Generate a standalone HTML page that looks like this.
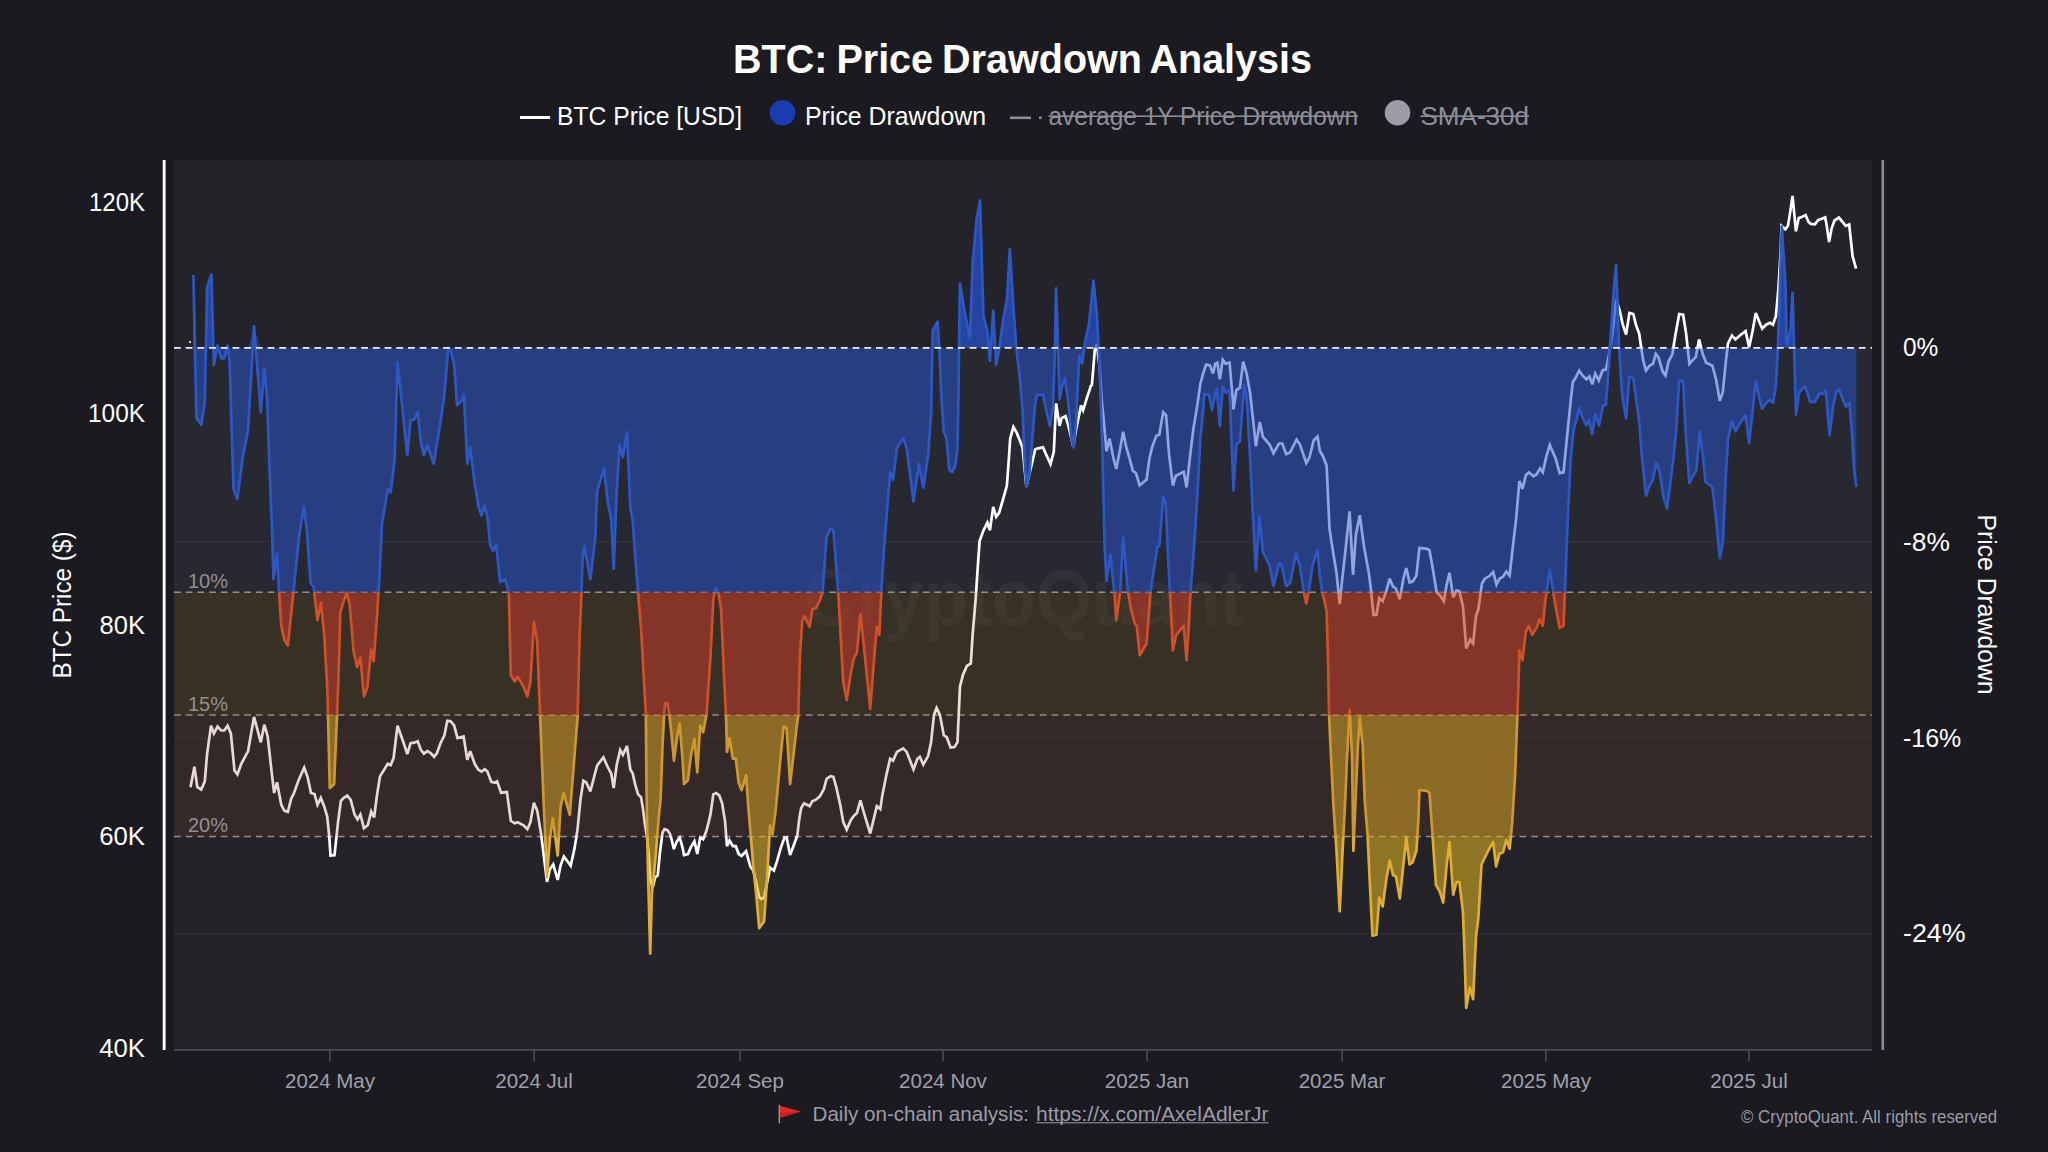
<!DOCTYPE html>
<html lang="en"><head><meta charset="utf-8"><title>BTC: Price Drawdown Analysis</title>
<style>html,body{margin:0;padding:0;background:#1a1a20;}body{width:2048px;height:1152px;overflow:hidden}</style></head>
<body>
<svg width="2048" height="1152" viewBox="0 0 2048 1152" style="display:block;font-family:'Liberation Sans', sans-serif">
<rect width="2048" height="1152" fill="#1a1a20"/>
<rect x="174" y="160" width="1698" height="890" fill="#232329"/>
<rect x="174" y="347.9" width="1698" height="244.30000000000007" fill="#272830"/>
<line x1="174" x2="1872" y1="542" y2="542" stroke="#ffffff" stroke-opacity="0.05" stroke-width="1.4"/>
<line x1="174" x2="1872" y1="738" y2="738" stroke="#ffffff" stroke-opacity="0.05" stroke-width="1.4"/>
<line x1="174" x2="1872" y1="934" y2="934" stroke="#ffffff" stroke-opacity="0.05" stroke-width="1.4"/>
<text x="1024" y="625" font-size="80" font-weight="bold" fill="#ffffff" fill-opacity="0.045" text-anchor="middle" textLength="440" lengthAdjust="spacingAndGlyphs">CryptoQuant</text>
<line x1="174" x2="1872" y1="592.2" y2="592.2" stroke="#9a959b" stroke-width="1.6" stroke-dasharray="6.8 4.9"/>
<line x1="174" x2="1872" y1="715" y2="715" stroke="#9a959b" stroke-width="1.6" stroke-dasharray="6.8 4.9"/>
<line x1="174" x2="1872" y1="836.5" y2="836.5" stroke="#9a959b" stroke-width="1.6" stroke-dasharray="6.8 4.9"/>
<polyline points="190.5,787.2 194.4,766.7 197.3,787.2 201.2,789.5 204.8,781.3 207.1,754.0 211.0,725.7 213.9,733.5 217.5,726.6 221.2,730.5 224.3,730.5 227.6,725.7 230.9,733.5 234.5,770.6 237.4,774.5 241.3,763.8 248.1,751.1 254.0,716.9 260.8,742.3 264.3,724.7 267.7,736.4 271.6,771.6 274.1,793.0 277.0,782.3 281.3,804.8 284.3,810.6 287.8,812.0 291.1,798.9 294.0,793.0 298.9,779.4 304.2,767.7 307.7,777.4 311.0,793.0 314.5,794.0 317.5,804.8 320.8,797.9 324.3,806.7 327.2,816.5 329.2,836.0 330.5,855.5 334.5,855.2 338.0,822.3 340.9,800.9 343.8,797.9 347.3,795.6 350.7,799.9 354.6,814.5 357.5,819.4 360.4,814.5 363.9,828.2 367.7,825.3 371.2,811.6 374.1,817.5 377.0,795.0 380.0,776.4 382.9,771.6 387.8,763.8 390.7,765.1 393.6,757.9 397.5,725.7 403.4,742.3 407.3,754.0 410.6,743.2 414.1,742.7 417.7,741.3 421.0,750.1 423.9,753.6 427.4,751.1 430.7,753.0 434.1,756.9 437.0,753.0 440.5,743.2 444.4,735.4 447.3,720.8 450.7,721.2 454.2,725.7 457.5,738.0 463.6,736.4 467.3,759.8 470.2,751.1 474.7,763.8 478.2,769.6 481.5,771.6 484.8,769.2 487.4,771.6 491.3,781.9 495.2,782.7 497.1,781.3 501.1,792.7 506.9,792.1 510.8,820.8 514.7,823.3 517.7,822.3 523.5,825.3 527.4,829.2 530.4,822.3 533.9,802.8 537.2,810.6 541.1,834.1 544.0,857.5 547.0,881.9 549.9,869.2 553.2,864.3 557.7,880.0 560.6,865.3 563.9,856.5 570.7,865.7 574.6,848.1 577.6,828.6 580.5,799.3 583.4,780.7 586.4,782.7 590.3,791.5 597.1,765.5 603.4,757.3 607.9,767.5 611.2,773.4 613.7,788.0 616.6,765.5 620.2,749.9 622.9,754.8 627.0,746.0 630.3,769.5 632.7,773.4 635.2,784.6 638.1,794.4 641.1,797.3 643.0,809.1 645.0,824.7 646.9,836.4 648.9,855.9 650.2,879.4 652.8,887.2 655.1,877.4 657.7,875.5 660.0,852.0 662.5,832.5 664.5,829.2 667.4,830.2 669.8,833.5 671.3,838.4 673.9,849.1 676.8,841.3 679.7,837.4 682.7,848.1 684.0,855.0 687.9,854.0 690.9,847.1 694.4,841.3 697.3,854.0 700.2,837.4 703.2,839.3 706.5,830.5 710.4,814.9 713.3,794.4 716.2,793.0 719.2,795.4 722.1,803.2 725.0,820.8 727.0,846.2 729.5,840.3 732.9,846.2 735.8,846.2 738.7,854.0 741.6,855.9 746.1,851.1 748.5,859.8 750.4,866.7 753.4,870.6 756.3,883.3 759.2,897.0 761.2,898.9 764.1,897.9 767.0,883.3 770.0,867.7 773.9,870.6 776.8,861.8 780.7,848.1 784.6,837.4 786.6,837.4 790.1,855.0 793.4,846.2 797.3,835.4 799.3,818.8 801.2,808.1 804.1,803.2 809.6,806.1 812.3,801.2 815.9,799.7 819.8,796.4 823.7,789.5 826.6,778.8 830.5,776.2 833.4,776.8 836.4,787.6 840.3,805.2 843.2,821.8 846.7,829.6 851.0,819.8 853.9,815.9 856.9,813.0 860.4,800.3 863.7,812.0 870.2,833.5 874.5,815.9 876.8,806.1 880.3,809.1 882.3,795.4 886.2,775.9 890.1,758.7 893.0,760.7 896.9,751.9 903.2,748.4 906.7,751.9 913.5,769.5 917.4,758.7 919.8,756.8 923.3,764.6 928.2,755.8 931.1,742.1 934.0,714.8 936.6,707.9 939.9,714.8 943.8,735.3 946.7,737.2 950.6,747.6 954.5,747.0 957.5,742.1 958.8,712.8 960.0,686.5 963.0,674.8 966.9,666.0 970.8,663.4 972.7,633.8 975.7,598.6 977.6,569.3 979.6,541.1 983.5,530.4 987.4,522.6 989.9,530.4 993.2,507.0 996.2,516.7 999.1,512.8 1003.0,499.5 1006.9,485.5 1008.9,458.1 1010.2,438.6 1013.4,426.9 1016.7,432.7 1022.5,447.4 1026.4,486.4 1029.4,473.8 1032.3,462.0 1035.2,449.3 1038.2,448.4 1043.0,447.4 1046.0,454.2 1050.5,464.0 1053.8,451.9 1056.1,403.4 1059.6,425.9 1061.6,418.1 1065.5,416.1 1068.4,425.9 1073.3,446.4 1076.2,428.8 1081.1,405.4 1083.1,410.3 1087.0,397.6 1090.9,385.9 1091.9,385.1 1094.8,349.9 1096.8,344.1 1099.7,367.5 1101.6,399.5 1103.6,419.1 1106.5,451.3 1109.5,438.6 1113.4,458.1 1116.3,468.9 1120.2,448.4 1123.1,431.8 1126.1,446.4 1130.0,460.1 1132.9,470.8 1135.8,472.8 1139.7,485.5 1146.6,479.6 1149.5,458.1 1152.4,446.4 1156.3,435.7 1159.3,434.7 1163.2,412.2 1166.1,415.2 1169.0,454.2 1172.9,485.5 1175.9,475.7 1183.7,471.8 1186.6,487.4 1190.5,452.3 1193.4,428.8 1197.3,405.4 1200.3,383.9 1203.2,373.4 1206.1,364.6 1210.0,365.5 1213.0,373.4 1215.3,363.6 1217.3,362.6 1219.8,379.2 1222.7,359.7 1225.7,363.6 1229.6,362.6 1232.5,396.8 1233.5,409.3 1236.4,390.0 1239.9,388.0 1243.2,361.6 1246.6,373.4 1250.1,392.9 1253.0,419.1 1255.9,446.4 1259.8,422.0 1262.8,436.6 1269.6,444.5 1273.5,453.2 1279.0,443.5 1282.3,443.5 1286.2,454.2 1290.1,452.3 1296.6,439.6 1299.9,444.5 1306.3,463.0 1309.6,457.1 1313.6,440.5 1317.5,436.6 1319.8,450.8 1322.7,455.7 1326.6,465.4 1329.5,528.9 1333.4,554.3 1336.4,571.9 1339.7,604.1 1342.2,579.7 1346.1,544.5 1349.6,511.3 1353.0,574.8 1355.9,534.8 1359.8,515.2 1363.7,544.5 1368.6,571.9 1370.5,585.5 1373.5,614.8 1376.4,614.8 1379.3,598.2 1382.7,601.2 1386.2,591.4 1389.7,578.7 1393.0,586.5 1395.9,588.5 1399.8,599.2 1403.4,578.7 1406.3,568.0 1409.6,582.6 1412.5,581.6 1416.4,575.8 1419.4,547.9 1427.2,548.8 1429.5,550.4 1433.0,569.9 1436.6,592.4 1439.9,595.3 1443.8,601.2 1446.7,584.6 1449.5,572.9 1453.2,597.3 1456.5,590.4 1459.4,591.4 1462.9,606.1 1464.3,623.0 1466.2,648.4 1470.2,639.6 1473.1,643.5 1476.0,616.1 1478.4,609.3 1481.9,583.6 1484.8,578.7 1489.7,575.8 1493.2,571.9 1496.5,584.6 1499.5,578.7 1503.0,576.8 1506.3,571.5 1509.6,575.8 1513.1,544.5 1516.1,519.1 1519.4,481.1 1522.5,488.9 1525.8,475.2 1528.8,472.3 1533.6,476.2 1536.6,474.2 1540.1,468.4 1542.8,472.3 1546.3,456.6 1549.8,444.9 1555.7,458.6 1559.6,473.2 1563.5,472.3 1566.8,439.1 1570.8,399.9 1572.8,382.3 1575.7,377.5 1579.2,370.6 1582.5,375.5 1586.4,379.4 1589.4,376.5 1592.3,384.3 1595.2,373.6 1598.8,380.4 1602.7,370.2 1606.0,369.6 1608.9,355.0 1612.8,331.6 1616.1,299.3 1619.6,310.1 1622.6,323.8 1626.1,334.5 1629.4,313.0 1633.3,314.0 1636.2,325.7 1639.2,333.5 1641.1,347.0 1643.1,359.9 1646.0,370.6 1649.5,365.7 1652.9,363.8 1655.8,354.0 1658.7,357.9 1662.6,371.6 1665.5,375.5 1668.5,361.8 1672.4,354.0 1675.3,335.5 1679.2,314.0 1683.1,314.6 1686.1,333.5 1688.0,351.1 1689.4,363.8 1692.9,359.9 1695.8,357.0 1699.1,339.4 1702.7,354.0 1706.2,362.8 1712.4,365.7 1716.3,380.4 1719.8,400.9 1722.8,392.1 1725.7,362.8 1728.0,343.3 1732.0,335.5 1735.5,339.4 1739.8,335.5 1745.6,331.2 1749.1,347.2 1752.5,331.6 1755.8,313.0 1759.3,321.8 1762.2,328.6 1766.1,324.7 1770.0,322.8 1773.0,324.7 1775.9,315.9 1778.4,288.6 1780.8,249.5 1781.5,225.9 1785.4,229.3 1787.9,225.9 1789.9,214.1 1792.5,196.0 1794.3,214.1 1795.9,231.3 1798.7,218.1 1801.6,217.1 1805.6,215.1 1808.5,222.0 1810.9,223.9 1814.9,224.4 1818.3,220.0 1821.2,219.0 1825.2,217.4 1826.6,224.9 1829.1,242.1 1831.5,228.9 1834.5,220.5 1838.9,217.6 1841.8,221.0 1845.8,225.9 1849.2,224.4 1850.7,238.7 1852.6,256.3 1856.1,268.6" fill="none" stroke="#ffffff" stroke-width="2.7" stroke-linejoin="miter" stroke-miterlimit="3"/>
<polygon points="193.4,347.9 193.4,275.0 196.4,418.0 201.2,424.8 204.8,402.3 207.1,287.1 211.4,274.4 213.9,365.2 217.5,345.3 221.2,358.4 224.3,358.4 227.6,345.3 229.6,361.3 233.5,489.3 237.4,499.1 242.3,460.0 248.1,429.7 254.0,326.2 260.8,412.1 264.3,368.2 267.1,398.4 269.6,469.8 271.6,518.6 273.5,579.1 277.0,553.8 279.4,592.2 281.3,592.2 284.3,592.2 287.8,592.2 291.1,592.2 293.4,592.2 298.9,538.1 303.8,506.9 306.7,528.4 310.6,583.0 313.6,587.0 314.5,592.2 317.5,592.2 321.0,592.2 324.3,592.2 327.4,592.2 329.8,592.2 334.1,592.2 337.0,592.2 338.4,592.2 340.3,592.2 343.8,592.2 346.8,592.2 349.7,592.2 353.6,592.2 357.1,592.2 360.4,592.2 363.9,592.2 367.3,592.2 371.2,592.2 373.7,592.2 377.0,592.2 379.4,577.2 381.9,524.5 387.8,489.3 390.7,492.2 394.6,460.0 397.5,362.3 407.3,455.1 410.6,419.9 414.1,419.9 417.7,412.1 421.0,443.4 423.9,455.1 427.4,445.3 433.7,463.9 440.5,421.9 444.4,394.5 448.3,347.7 450.7,349.6 454.2,365.2 457.1,405.3 462.0,400.4 463.9,394.5 467.3,463.9 470.2,447.3 474.7,483.4 478.6,506.9 481.5,515.7 484.5,505.9 487.4,516.6 490.3,545.9 493.2,550.8 496.2,545.0 500.1,582.1 505.0,579.1 506.9,585.0 508.9,592.2 510.8,592.2 514.7,592.2 517.7,592.2 520.6,592.2 523.9,592.2 527.4,592.2 530.4,592.2 533.9,592.2 537.2,592.2 540.1,592.2 543.0,592.2 547.0,592.2 549.9,592.2 552.8,592.2 557.7,592.2 560.6,592.2 563.6,592.2 569.8,592.2 577.6,592.2 579.5,592.2 581.5,591.7 582.5,559.9 584.4,546.2 590.3,579.5 595.2,538.4 597.1,491.6 603.9,468.1 607.9,503.3 611.2,518.9 613.7,568.7 616.6,493.5 619.6,444.7 622.9,457.4 627.0,432.0 630.3,507.2 632.7,520.9 635.2,556.0 638.1,592.2 641.1,592.2 644.0,592.2 645.9,592.2 646.5,592.2 647.9,592.2 650.2,592.2 651.8,592.2 655.7,592.2 658.6,592.2 660.6,592.2 662.5,592.2 664.1,592.2 665.1,592.2 667.4,592.2 669.4,592.2 671.3,592.2 673.9,592.2 677.2,592.2 679.7,592.2 682.7,592.2 684.0,592.2 687.9,592.2 690.9,592.2 694.4,592.2 697.3,592.2 700.2,592.2 703.2,592.2 706.5,592.2 710.4,592.2 713.3,592.2 715.7,587.8 718.2,591.7 721.1,592.2 724.1,592.2 726.0,592.2 727.0,592.2 729.5,592.2 732.9,592.2 735.8,592.2 738.7,592.2 741.6,592.2 746.1,592.2 748.5,592.2 753.4,592.2 756.3,592.2 759.2,592.2 764.1,592.2 767.0,592.2 770.0,592.2 772.5,592.2 775.8,592.2 780.7,592.2 783.6,592.2 786.6,592.2 790.1,592.2 793.4,592.2 796.7,592.2 798.3,592.2 799.8,592.2 802.2,592.2 804.5,592.2 809.6,592.2 812.3,592.2 815.9,592.2 819.8,592.2 822.7,591.9 823.7,575.5 826.6,536.5 830.5,528.7 833.4,530.6 835.4,556.0 838.3,592.2 840.3,592.2 843.2,592.2 846.7,592.2 851.0,592.2 853.9,592.2 856.9,592.2 860.4,592.2 863.7,592.2 870.2,592.2 874.5,592.2 876.8,592.2 879.3,592.2 881.3,591.9 884.2,546.2 890.1,472.0 893.0,479.8 896.9,448.6 903.2,437.9 906.7,448.6 913.5,501.3 919.0,464.2 923.3,487.7 928.2,454.5 931.1,413.4 932.7,330.4 937.6,321.6 939.5,351.9 941.5,399.5 943.8,431.8 946.4,438.6 949.3,469.8 952.2,472.2 955.2,465.9 957.5,448.4 958.7,380.0 959.1,336.2 960.0,283.5 964.9,312.8 969.8,338.2 972.7,262.0 976.6,219.1 980.0,200.5 983.5,316.7 987.4,330.4 989.9,360.7 993.2,310.5 996.2,364.6 999.1,349.9 1003.0,320.6 1006.9,300.1 1009.8,249.3 1013.4,307.0 1016.7,351.9 1019.6,375.3 1022.5,409.3 1024.5,458.1 1026.4,486.4 1029.4,473.8 1032.3,438.6 1035.2,403.4 1037.2,394.6 1043.0,394.6 1046.0,409.3 1049.9,425.9 1052.8,409.3 1054.8,355.8 1056.1,288.4 1058.3,355.8 1059.6,399.5 1061.6,387.8 1064.9,378.2 1068.4,403.4 1071.4,438.6 1073.7,447.4 1076.2,419.1 1079.2,355.8 1082.1,363.6 1085.0,342.1 1088.9,324.5 1093.4,280.6 1096.8,312.8 1098.7,348.0 1100.7,399.5 1102.6,458.1 1104.6,546.0 1106.5,581.2 1110.4,554.8 1112.4,575.2 1114.3,592.0 1116.3,592.2 1118.2,592.2 1120.2,592.0 1123.1,537.2 1126.1,571.4 1128.0,592.0 1130.9,592.2 1134.8,592.2 1136.8,592.2 1139.7,592.2 1146.6,592.2 1148.5,592.2 1150.5,592.0 1154.4,565.5 1157.3,547.0 1159.3,546.0 1163.2,497.2 1165.7,503.0 1168.0,555.8 1170.0,592.0 1172.9,592.2 1175.9,592.2 1178.8,592.2 1183.7,592.2 1186.6,592.2 1188.6,592.2 1190.5,592.0 1193.4,555.8 1197.3,497.2 1200.3,438.6 1203.2,409.3 1204.2,393.9 1209.1,394.8 1212.0,410.3 1214.9,395.6 1216.9,388.8 1219.8,425.9 1222.7,386.8 1225.7,392.7 1229.6,390.7 1233.5,490.4 1236.4,444.5 1239.9,441.5 1244.2,384.9 1246.6,396.6 1250.1,458.1 1253.0,516.7 1255.9,570.4 1259.5,516.7 1262.8,551.9 1266.7,559.7 1269.6,565.5 1273.5,586.1 1279.0,563.6 1281.3,564.6 1286.2,586.1 1290.1,583.1 1296.0,553.8 1299.9,565.5 1303.8,592.0 1306.3,592.2 1308.7,592.0 1312.6,565.5 1317.5,549.9 1319.8,575.8 1322.1,592.0 1324.6,592.2 1326.6,592.2 1328.0,592.2 1329.1,592.2 1330.5,592.2 1333.4,592.2 1336.4,592.2 1339.7,592.2 1342.2,592.2 1345.2,592.2 1347.1,592.2 1349.6,592.2 1352.0,592.2 1353.4,592.2 1357.9,592.2 1359.8,592.2 1362.7,592.2 1364.7,592.2 1367.6,592.2 1369.6,592.2 1372.5,592.2 1376.4,592.2 1379.3,592.2 1382.7,592.2 1386.2,592.2 1389.7,592.2 1393.0,592.2 1395.9,592.2 1399.8,592.2 1403.4,592.2 1406.3,592.2 1409.6,592.2 1412.5,592.2 1416.4,592.2 1418.4,592.2 1419.4,592.2 1427.2,592.2 1429.5,592.2 1432.1,592.2 1436.0,592.2 1439.9,592.2 1443.2,592.2 1446.7,592.2 1449.5,592.2 1453.2,592.2 1456.5,592.2 1459.4,592.2 1462.9,592.2 1464.3,592.2 1466.2,592.2 1469.8,592.2 1473.1,592.2 1476.0,592.2 1478.4,592.2 1481.5,592.2 1484.8,592.2 1489.7,592.2 1493.2,592.2 1496.1,592.2 1499.5,592.2 1503.0,592.2 1506.3,592.2 1509.6,592.2 1512.1,592.2 1515.1,592.2 1517.4,592.2 1518.6,592.2 1519.4,592.2 1522.5,592.2 1525.8,592.2 1528.8,592.2 1532.3,592.2 1536.6,592.2 1539.5,592.2 1542.8,592.2 1545.4,592.2 1546.7,591.9 1549.8,569.9 1553.2,591.9 1556.1,592.2 1559.6,592.2 1563.5,592.2 1564.9,591.9 1567.8,517.2 1570.7,458.6 1573.7,429.3 1576.6,419.5 1579.1,407.8 1582.5,417.6 1586.4,425.4 1588.9,419.5 1592.2,434.2 1595.2,414.6 1599.1,425.4 1603.0,405.9 1605.9,404.9 1607.9,378.4 1611.2,327.7 1613.8,288.6 1616.1,265.2 1619.1,347.2 1622.2,396.0 1626.1,418.6 1629.4,376.5 1633.3,378.4 1636.2,399.9 1639.2,421.5 1642.1,458.6 1646.0,495.7 1649.5,485.9 1652.9,480.1 1656.2,462.5 1659.7,472.3 1663.6,497.7 1667.1,508.4 1670.4,482.0 1673.4,458.6 1676.3,429.3 1679.2,380.4 1683.1,381.4 1686.1,439.1 1689.4,483.0 1692.9,476.2 1696.4,470.3 1699.7,432.2 1702.7,454.7 1705.6,482.0 1712.4,486.9 1716.3,521.1 1719.8,558.2 1722.8,542.6 1725.7,478.1 1728.0,439.1 1732.0,421.5 1735.5,431.2 1739.8,423.4 1745.6,415.6 1749.1,443.0 1752.5,411.7 1755.8,381.4 1759.3,398.0 1762.2,408.8 1766.1,402.9 1770.0,399.9 1773.0,402.9 1775.9,386.2 1777.9,347.2 1779.8,288.6 1781.8,226.4 1785.7,288.6 1786.6,345.2 1788.6,339.4 1790.5,327.7 1792.5,292.5 1794.1,347.2 1796.0,414.6 1799.3,392.1 1805.2,386.2 1810.1,401.9 1815.0,401.9 1819.5,393.1 1822.2,394.1 1825.7,390.2 1829.6,435.2 1833.1,405.8 1836.4,392.1 1839.0,389.2 1842.9,399.9 1846.2,406.8 1849.5,402.9 1852.1,435.2 1854.0,468.4 1856.4,486.9 1856.4,347.9" fill="#2952cc" fill-opacity="0.52"/>
<polygon points="193.4,347.9 193.4,275.0 196.4,347.9 201.2,347.9 204.8,347.9 207.1,287.1 211.4,274.4 213.9,347.9 217.5,345.3 221.2,347.9 224.3,347.9 227.6,345.3 229.6,347.9 233.5,347.9 237.4,347.9 242.3,347.9 248.1,347.9 254.0,326.2 260.8,347.9 264.3,347.9 267.1,347.9 269.6,347.9 271.6,347.9 273.5,347.9 277.0,347.9 279.4,347.9 281.3,347.9 284.3,347.9 287.8,347.9 291.1,347.9 293.4,347.9 298.9,347.9 303.8,347.9 306.7,347.9 310.6,347.9 313.6,347.9 314.5,347.9 317.5,347.9 321.0,347.9 324.3,347.9 327.4,347.9 329.8,347.9 334.1,347.9 337.0,347.9 338.4,347.9 340.3,347.9 343.8,347.9 346.8,347.9 349.7,347.9 353.6,347.9 357.1,347.9 360.4,347.9 363.9,347.9 367.3,347.9 371.2,347.9 373.7,347.9 377.0,347.9 379.4,347.9 381.9,347.9 387.8,347.9 390.7,347.9 394.6,347.9 397.5,347.9 407.3,347.9 410.6,347.9 414.1,347.9 417.7,347.9 421.0,347.9 423.9,347.9 427.4,347.9 433.7,347.9 440.5,347.9 444.4,347.9 448.3,347.7 450.7,347.9 454.2,347.9 457.1,347.9 462.0,347.9 463.9,347.9 467.3,347.9 470.2,347.9 474.7,347.9 478.6,347.9 481.5,347.9 484.5,347.9 487.4,347.9 490.3,347.9 493.2,347.9 496.2,347.9 500.1,347.9 505.0,347.9 506.9,347.9 508.9,347.9 510.8,347.9 514.7,347.9 517.7,347.9 520.6,347.9 523.9,347.9 527.4,347.9 530.4,347.9 533.9,347.9 537.2,347.9 540.1,347.9 543.0,347.9 547.0,347.9 549.9,347.9 552.8,347.9 557.7,347.9 560.6,347.9 563.6,347.9 569.8,347.9 577.6,347.9 579.5,347.9 581.5,347.9 582.5,347.9 584.4,347.9 590.3,347.9 595.2,347.9 597.1,347.9 603.9,347.9 607.9,347.9 611.2,347.9 613.7,347.9 616.6,347.9 619.6,347.9 622.9,347.9 627.0,347.9 630.3,347.9 632.7,347.9 635.2,347.9 638.1,347.9 641.1,347.9 644.0,347.9 645.9,347.9 646.5,347.9 647.9,347.9 650.2,347.9 651.8,347.9 655.7,347.9 658.6,347.9 660.6,347.9 662.5,347.9 664.1,347.9 665.1,347.9 667.4,347.9 669.4,347.9 671.3,347.9 673.9,347.9 677.2,347.9 679.7,347.9 682.7,347.9 684.0,347.9 687.9,347.9 690.9,347.9 694.4,347.9 697.3,347.9 700.2,347.9 703.2,347.9 706.5,347.9 710.4,347.9 713.3,347.9 715.7,347.9 718.2,347.9 721.1,347.9 724.1,347.9 726.0,347.9 727.0,347.9 729.5,347.9 732.9,347.9 735.8,347.9 738.7,347.9 741.6,347.9 746.1,347.9 748.5,347.9 753.4,347.9 756.3,347.9 759.2,347.9 764.1,347.9 767.0,347.9 770.0,347.9 772.5,347.9 775.8,347.9 780.7,347.9 783.6,347.9 786.6,347.9 790.1,347.9 793.4,347.9 796.7,347.9 798.3,347.9 799.8,347.9 802.2,347.9 804.5,347.9 809.6,347.9 812.3,347.9 815.9,347.9 819.8,347.9 822.7,347.9 823.7,347.9 826.6,347.9 830.5,347.9 833.4,347.9 835.4,347.9 838.3,347.9 840.3,347.9 843.2,347.9 846.7,347.9 851.0,347.9 853.9,347.9 856.9,347.9 860.4,347.9 863.7,347.9 870.2,347.9 874.5,347.9 876.8,347.9 879.3,347.9 881.3,347.9 884.2,347.9 890.1,347.9 893.0,347.9 896.9,347.9 903.2,347.9 906.7,347.9 913.5,347.9 919.0,347.9 923.3,347.9 928.2,347.9 931.1,347.9 932.7,330.4 937.6,321.6 939.5,347.9 941.5,347.9 943.8,347.9 946.4,347.9 949.3,347.9 952.2,347.9 955.2,347.9 957.5,347.9 958.7,347.9 959.1,336.2 960.0,283.5 964.9,312.8 969.8,338.2 972.7,262.0 976.6,219.1 980.0,200.5 983.5,316.7 987.4,330.4 989.9,347.9 993.2,310.5 996.2,347.9 999.1,347.9 1003.0,320.6 1006.9,300.1 1009.8,249.3 1013.4,307.0 1016.7,347.9 1019.6,347.9 1022.5,347.9 1024.5,347.9 1026.4,347.9 1029.4,347.9 1032.3,347.9 1035.2,347.9 1037.2,347.9 1043.0,347.9 1046.0,347.9 1049.9,347.9 1052.8,347.9 1054.8,347.9 1056.1,288.4 1058.3,347.9 1059.6,347.9 1061.6,347.9 1064.9,347.9 1068.4,347.9 1071.4,347.9 1073.7,347.9 1076.2,347.9 1079.2,347.9 1082.1,347.9 1085.0,342.1 1088.9,324.5 1093.4,280.6 1096.8,312.8 1098.7,347.9 1100.7,347.9 1102.6,347.9 1104.6,347.9 1106.5,347.9 1110.4,347.9 1112.4,347.9 1114.3,347.9 1116.3,347.9 1118.2,347.9 1120.2,347.9 1123.1,347.9 1126.1,347.9 1128.0,347.9 1130.9,347.9 1134.8,347.9 1136.8,347.9 1139.7,347.9 1146.6,347.9 1148.5,347.9 1150.5,347.9 1154.4,347.9 1157.3,347.9 1159.3,347.9 1163.2,347.9 1165.7,347.9 1168.0,347.9 1170.0,347.9 1172.9,347.9 1175.9,347.9 1178.8,347.9 1183.7,347.9 1186.6,347.9 1188.6,347.9 1190.5,347.9 1193.4,347.9 1197.3,347.9 1200.3,347.9 1203.2,347.9 1204.2,347.9 1209.1,347.9 1212.0,347.9 1214.9,347.9 1216.9,347.9 1219.8,347.9 1222.7,347.9 1225.7,347.9 1229.6,347.9 1233.5,347.9 1236.4,347.9 1239.9,347.9 1244.2,347.9 1246.6,347.9 1250.1,347.9 1253.0,347.9 1255.9,347.9 1259.5,347.9 1262.8,347.9 1266.7,347.9 1269.6,347.9 1273.5,347.9 1279.0,347.9 1281.3,347.9 1286.2,347.9 1290.1,347.9 1296.0,347.9 1299.9,347.9 1303.8,347.9 1306.3,347.9 1308.7,347.9 1312.6,347.9 1317.5,347.9 1319.8,347.9 1322.1,347.9 1324.6,347.9 1326.6,347.9 1328.0,347.9 1329.1,347.9 1330.5,347.9 1333.4,347.9 1336.4,347.9 1339.7,347.9 1342.2,347.9 1345.2,347.9 1347.1,347.9 1349.6,347.9 1352.0,347.9 1353.4,347.9 1357.9,347.9 1359.8,347.9 1362.7,347.9 1364.7,347.9 1367.6,347.9 1369.6,347.9 1372.5,347.9 1376.4,347.9 1379.3,347.9 1382.7,347.9 1386.2,347.9 1389.7,347.9 1393.0,347.9 1395.9,347.9 1399.8,347.9 1403.4,347.9 1406.3,347.9 1409.6,347.9 1412.5,347.9 1416.4,347.9 1418.4,347.9 1419.4,347.9 1427.2,347.9 1429.5,347.9 1432.1,347.9 1436.0,347.9 1439.9,347.9 1443.2,347.9 1446.7,347.9 1449.5,347.9 1453.2,347.9 1456.5,347.9 1459.4,347.9 1462.9,347.9 1464.3,347.9 1466.2,347.9 1469.8,347.9 1473.1,347.9 1476.0,347.9 1478.4,347.9 1481.5,347.9 1484.8,347.9 1489.7,347.9 1493.2,347.9 1496.1,347.9 1499.5,347.9 1503.0,347.9 1506.3,347.9 1509.6,347.9 1512.1,347.9 1515.1,347.9 1517.4,347.9 1518.6,347.9 1519.4,347.9 1522.5,347.9 1525.8,347.9 1528.8,347.9 1532.3,347.9 1536.6,347.9 1539.5,347.9 1542.8,347.9 1545.4,347.9 1546.7,347.9 1549.8,347.9 1553.2,347.9 1556.1,347.9 1559.6,347.9 1563.5,347.9 1564.9,347.9 1567.8,347.9 1570.7,347.9 1573.7,347.9 1576.6,347.9 1579.1,347.9 1582.5,347.9 1586.4,347.9 1588.9,347.9 1592.2,347.9 1595.2,347.9 1599.1,347.9 1603.0,347.9 1605.9,347.9 1607.9,347.9 1611.2,327.7 1613.8,288.6 1616.1,265.2 1619.1,347.2 1622.2,347.9 1626.1,347.9 1629.4,347.9 1633.3,347.9 1636.2,347.9 1639.2,347.9 1642.1,347.9 1646.0,347.9 1649.5,347.9 1652.9,347.9 1656.2,347.9 1659.7,347.9 1663.6,347.9 1667.1,347.9 1670.4,347.9 1673.4,347.9 1676.3,347.9 1679.2,347.9 1683.1,347.9 1686.1,347.9 1689.4,347.9 1692.9,347.9 1696.4,347.9 1699.7,347.9 1702.7,347.9 1705.6,347.9 1712.4,347.9 1716.3,347.9 1719.8,347.9 1722.8,347.9 1725.7,347.9 1728.0,347.9 1732.0,347.9 1735.5,347.9 1739.8,347.9 1745.6,347.9 1749.1,347.9 1752.5,347.9 1755.8,347.9 1759.3,347.9 1762.2,347.9 1766.1,347.9 1770.0,347.9 1773.0,347.9 1775.9,347.9 1777.9,347.2 1779.8,288.6 1781.8,226.4 1785.7,288.6 1786.6,345.2 1788.6,339.4 1790.5,327.7 1792.5,292.5 1794.1,347.2 1796.0,347.9 1799.3,347.9 1805.2,347.9 1810.1,347.9 1815.0,347.9 1819.5,347.9 1822.2,347.9 1825.7,347.9 1829.6,347.9 1833.1,347.9 1836.4,347.9 1839.0,347.9 1842.9,347.9 1846.2,347.9 1849.5,347.9 1852.1,347.9 1854.0,347.9 1856.4,347.9 1856.4,347.9" fill="#2952cc" fill-opacity="0.45"/>
<polygon points="193.4,592.2 193.4,592.2 196.4,592.2 201.2,592.2 204.8,592.2 207.1,592.2 211.4,592.2 213.9,592.2 217.5,592.2 221.2,592.2 224.3,592.2 227.6,592.2 229.6,592.2 233.5,592.2 237.4,592.2 242.3,592.2 248.1,592.2 254.0,592.2 260.8,592.2 264.3,592.2 267.1,592.2 269.6,592.2 271.6,592.2 273.5,592.2 277.0,592.2 279.4,596.7 281.3,626.0 284.3,639.7 287.8,645.5 291.1,614.3 293.4,592.8 298.9,592.2 303.8,592.2 306.7,592.2 310.6,592.2 313.6,592.2 314.5,594.8 317.5,620.2 321.0,602.6 324.3,635.8 327.4,689.5 329.8,715.0 334.1,715.0 337.0,715.0 338.4,679.8 340.3,612.3 343.8,600.6 346.8,592.8 349.7,604.5 353.6,651.4 357.1,667.0 360.4,657.3 363.9,696.4 367.3,687.6 371.2,649.5 373.7,661.2 377.0,616.2 379.4,592.2 381.9,592.2 387.8,592.2 390.7,592.2 394.6,592.2 397.5,592.2 407.3,592.2 410.6,592.2 414.1,592.2 417.7,592.2 421.0,592.2 423.9,592.2 427.4,592.2 433.7,592.2 440.5,592.2 444.4,592.2 448.3,592.2 450.7,592.2 454.2,592.2 457.1,592.2 462.0,592.2 463.9,592.2 467.3,592.2 470.2,592.2 474.7,592.2 478.6,592.2 481.5,592.2 484.5,592.2 487.4,592.2 490.3,592.2 493.2,592.2 496.2,592.2 500.1,592.2 505.0,592.2 506.9,592.2 508.9,594.8 510.8,674.8 514.7,681.7 517.7,676.8 520.6,681.7 523.9,687.6 527.4,696.4 530.4,681.7 533.9,622.1 537.2,641.6 540.1,714.9 543.0,715.0 547.0,715.0 549.9,715.0 552.8,715.0 557.7,715.0 560.6,715.0 563.6,715.0 569.8,715.0 577.6,715.0 579.5,638.6 581.5,592.2 582.5,592.2 584.4,592.2 590.3,592.2 595.2,592.2 597.1,592.2 603.9,592.2 607.9,592.2 611.2,592.2 613.7,592.2 616.6,592.2 619.6,592.2 622.9,592.2 627.0,592.2 630.3,592.2 632.7,592.2 635.2,592.2 638.1,593.1 641.1,628.8 644.0,681.6 645.9,714.8 646.5,715.0 647.9,715.0 650.2,715.0 651.8,715.0 655.7,715.0 658.6,715.0 660.6,715.0 662.5,715.0 664.1,714.8 665.1,703.0 667.4,703.0 669.4,714.8 671.3,715.0 673.9,715.0 677.2,715.0 679.7,715.0 682.7,715.0 684.0,715.0 687.9,715.0 690.9,715.0 694.4,715.0 697.3,715.0 700.2,715.0 703.2,715.0 706.5,714.8 710.4,658.1 713.3,599.5 715.7,592.2 718.2,592.2 721.1,609.3 724.1,677.7 726.0,714.8 727.0,715.0 729.5,715.0 732.9,715.0 735.8,715.0 738.7,715.0 741.6,715.0 746.1,715.0 748.5,715.0 753.4,715.0 756.3,715.0 759.2,715.0 764.1,715.0 767.0,715.0 770.0,715.0 772.5,715.0 775.8,715.0 780.7,715.0 783.6,715.0 786.6,715.0 790.1,715.0 793.4,715.0 796.7,715.0 798.3,714.8 799.8,658.1 802.2,621.0 804.5,616.1 809.6,626.9 812.3,609.3 815.9,608.3 819.8,600.5 822.7,592.2 823.7,592.2 826.6,592.2 830.5,592.2 833.4,592.2 835.4,592.2 838.3,593.1 840.3,628.8 843.2,681.6 846.7,700.1 851.0,671.8 853.9,658.1 856.9,652.3 860.4,614.2 863.7,644.5 870.2,708.9 874.5,654.2 876.8,626.9 879.3,634.7 881.3,592.2 884.2,592.2 890.1,592.2 893.0,592.2 896.9,592.2 903.2,592.2 906.7,592.2 913.5,592.2 919.0,592.2 923.3,592.2 928.2,592.2 931.1,592.2 932.7,592.2 937.6,592.2 939.5,592.2 941.5,592.2 943.8,592.2 946.4,592.2 949.3,592.2 952.2,592.2 955.2,592.2 957.5,592.2 958.7,592.2 959.1,592.2 960.0,592.2 964.9,592.2 969.8,592.2 972.7,592.2 976.6,592.2 980.0,592.2 983.5,592.2 987.4,592.2 989.9,592.2 993.2,592.2 996.2,592.2 999.1,592.2 1003.0,592.2 1006.9,592.2 1009.8,592.2 1013.4,592.2 1016.7,592.2 1019.6,592.2 1022.5,592.2 1024.5,592.2 1026.4,592.2 1029.4,592.2 1032.3,592.2 1035.2,592.2 1037.2,592.2 1043.0,592.2 1046.0,592.2 1049.9,592.2 1052.8,592.2 1054.8,592.2 1056.1,592.2 1058.3,592.2 1059.6,592.2 1061.6,592.2 1064.9,592.2 1068.4,592.2 1071.4,592.2 1073.7,592.2 1076.2,592.2 1079.2,592.2 1082.1,592.2 1085.0,592.2 1088.9,592.2 1093.4,592.2 1096.8,592.2 1098.7,592.2 1100.7,592.2 1102.6,592.2 1104.6,592.2 1106.5,592.2 1110.4,592.2 1112.4,592.2 1114.3,592.2 1116.3,620.1 1118.2,606.4 1120.2,592.2 1123.1,592.2 1126.1,592.2 1128.0,592.2 1130.9,608.4 1134.8,624.0 1136.8,625.9 1139.7,655.2 1146.6,643.5 1148.5,618.1 1150.5,592.2 1154.4,592.2 1157.3,592.2 1159.3,592.2 1163.2,592.2 1165.7,592.2 1168.0,592.2 1170.0,592.2 1172.9,650.4 1175.9,635.7 1178.8,631.8 1183.7,625.9 1186.6,660.1 1188.6,627.9 1190.5,592.2 1193.4,592.2 1197.3,592.2 1200.3,592.2 1203.2,592.2 1204.2,592.2 1209.1,592.2 1212.0,592.2 1214.9,592.2 1216.9,592.2 1219.8,592.2 1222.7,592.2 1225.7,592.2 1229.6,592.2 1233.5,592.2 1236.4,592.2 1239.9,592.2 1244.2,592.2 1246.6,592.2 1250.1,592.2 1253.0,592.2 1255.9,592.2 1259.5,592.2 1262.8,592.2 1266.7,592.2 1269.6,592.2 1273.5,592.2 1279.0,592.2 1281.3,592.2 1286.2,592.2 1290.1,592.2 1296.0,592.2 1299.9,592.2 1303.8,592.2 1306.3,603.5 1308.7,592.2 1312.6,592.2 1317.5,592.2 1319.8,592.2 1322.1,592.2 1324.6,601.5 1326.6,611.2 1328.0,658.1 1329.1,715.0 1330.5,715.0 1333.4,715.0 1336.4,715.0 1339.7,715.0 1342.2,715.0 1345.2,715.0 1347.1,715.0 1349.6,709.9 1352.0,715.0 1353.4,715.0 1357.9,715.0 1359.8,715.0 1362.7,715.0 1364.7,715.0 1367.6,715.0 1369.6,715.0 1372.5,715.0 1376.4,715.0 1379.3,715.0 1382.7,715.0 1386.2,715.0 1389.7,715.0 1393.0,715.0 1395.9,715.0 1399.8,715.0 1403.4,715.0 1406.3,715.0 1409.6,715.0 1412.5,715.0 1416.4,715.0 1418.4,715.0 1419.4,715.0 1427.2,715.0 1429.5,715.0 1432.1,715.0 1436.0,715.0 1439.9,715.0 1443.2,715.0 1446.7,715.0 1449.5,715.0 1453.2,715.0 1456.5,715.0 1459.4,715.0 1462.9,715.0 1464.3,715.0 1466.2,715.0 1469.8,715.0 1473.1,715.0 1476.0,715.0 1478.4,715.0 1481.5,715.0 1484.8,715.0 1489.7,715.0 1493.2,715.0 1496.1,715.0 1499.5,715.0 1503.0,715.0 1506.3,715.0 1509.6,715.0 1512.1,715.0 1515.1,715.0 1517.4,715.0 1518.6,677.7 1519.4,650.3 1522.5,660.1 1525.8,631.8 1528.8,625.9 1532.3,634.7 1536.6,627.9 1539.5,619.1 1542.8,625.9 1545.4,599.5 1546.7,592.2 1549.8,592.2 1553.2,592.2 1556.1,609.3 1559.6,627.9 1563.5,625.9 1564.9,592.2 1567.8,592.2 1570.7,592.2 1573.7,592.2 1576.6,592.2 1579.1,592.2 1582.5,592.2 1586.4,592.2 1588.9,592.2 1592.2,592.2 1595.2,592.2 1599.1,592.2 1603.0,592.2 1605.9,592.2 1607.9,592.2 1611.2,592.2 1613.8,592.2 1616.1,592.2 1619.1,592.2 1622.2,592.2 1626.1,592.2 1629.4,592.2 1633.3,592.2 1636.2,592.2 1639.2,592.2 1642.1,592.2 1646.0,592.2 1649.5,592.2 1652.9,592.2 1656.2,592.2 1659.7,592.2 1663.6,592.2 1667.1,592.2 1670.4,592.2 1673.4,592.2 1676.3,592.2 1679.2,592.2 1683.1,592.2 1686.1,592.2 1689.4,592.2 1692.9,592.2 1696.4,592.2 1699.7,592.2 1702.7,592.2 1705.6,592.2 1712.4,592.2 1716.3,592.2 1719.8,592.2 1722.8,592.2 1725.7,592.2 1728.0,592.2 1732.0,592.2 1735.5,592.2 1739.8,592.2 1745.6,592.2 1749.1,592.2 1752.5,592.2 1755.8,592.2 1759.3,592.2 1762.2,592.2 1766.1,592.2 1770.0,592.2 1773.0,592.2 1775.9,592.2 1777.9,592.2 1779.8,592.2 1781.8,592.2 1785.7,592.2 1786.6,592.2 1788.6,592.2 1790.5,592.2 1792.5,592.2 1794.1,592.2 1796.0,592.2 1799.3,592.2 1805.2,592.2 1810.1,592.2 1815.0,592.2 1819.5,592.2 1822.2,592.2 1825.7,592.2 1829.6,592.2 1833.1,592.2 1836.4,592.2 1839.0,592.2 1842.9,592.2 1846.2,592.2 1849.5,592.2 1852.1,592.2 1854.0,592.2 1856.4,592.2 1856.4,592.2" fill="#d12e30" fill-opacity="0.55"/>
<polygon points="193.4,715.0 193.4,715.0 196.4,715.0 201.2,715.0 204.8,715.0 207.1,715.0 211.4,715.0 213.9,715.0 217.5,715.0 221.2,715.0 224.3,715.0 227.6,715.0 229.6,715.0 233.5,715.0 237.4,715.0 242.3,715.0 248.1,715.0 254.0,715.0 260.8,715.0 264.3,715.0 267.1,715.0 269.6,715.0 271.6,715.0 273.5,715.0 277.0,715.0 279.4,715.0 281.3,715.0 284.3,715.0 287.8,715.0 291.1,715.0 293.4,715.0 298.9,715.0 303.8,715.0 306.7,715.0 310.6,715.0 313.6,715.0 314.5,715.0 317.5,715.0 321.0,715.0 324.3,715.0 327.4,715.0 329.8,788.2 334.1,784.3 337.0,715.9 338.4,715.0 340.3,715.0 343.8,715.0 346.8,715.0 349.7,715.0 353.6,715.0 357.1,715.0 360.4,715.0 363.9,715.0 367.3,715.0 371.2,715.0 373.7,715.0 377.0,715.0 379.4,715.0 381.9,715.0 387.8,715.0 390.7,715.0 394.6,715.0 397.5,715.0 407.3,715.0 410.6,715.0 414.1,715.0 417.7,715.0 421.0,715.0 423.9,715.0 427.4,715.0 433.7,715.0 440.5,715.0 444.4,715.0 448.3,715.0 450.7,715.0 454.2,715.0 457.1,715.0 462.0,715.0 463.9,715.0 467.3,715.0 470.2,715.0 474.7,715.0 478.6,715.0 481.5,715.0 484.5,715.0 487.4,715.0 490.3,715.0 493.2,715.0 496.2,715.0 500.1,715.0 505.0,715.0 506.9,715.0 508.9,715.0 510.8,715.0 514.7,715.0 517.7,715.0 520.6,715.0 523.9,715.0 527.4,715.0 530.4,715.0 533.9,715.0 537.2,715.0 540.1,715.0 543.0,787.2 547.0,877.0 549.9,838.0 552.8,818.4 557.7,855.5 560.6,806.7 563.6,793.0 569.8,814.9 577.6,716.7 579.5,715.0 581.5,715.0 582.5,715.0 584.4,715.0 590.3,715.0 595.2,715.0 597.1,715.0 603.9,715.0 607.9,715.0 611.2,715.0 613.7,715.0 616.6,715.0 619.6,715.0 622.9,715.0 627.0,715.0 630.3,715.0 632.7,715.0 635.2,715.0 638.1,715.0 641.1,715.0 644.0,715.0 645.9,715.0 646.5,789.5 647.9,867.7 650.2,953.6 651.8,895.0 655.7,855.9 658.6,818.8 660.6,799.3 662.5,746.0 664.1,715.0 665.1,715.0 667.4,715.0 669.4,715.0 671.3,732.3 673.9,760.7 677.2,736.2 679.7,723.6 682.7,761.6 684.0,784.1 687.9,780.2 690.9,755.8 694.4,739.2 697.3,772.4 700.2,725.5 703.2,732.3 706.5,715.0 710.4,715.0 713.3,715.0 715.7,715.0 718.2,715.0 721.1,715.0 724.1,715.0 726.0,715.0 727.0,751.9 729.5,738.2 732.9,758.7 735.8,758.7 738.7,783.1 741.6,790.0 746.1,775.3 748.5,809.1 753.4,867.7 756.3,895.0 759.2,928.2 764.1,921.4 767.0,879.4 770.0,825.7 772.5,834.5 775.8,809.1 780.7,755.8 783.6,726.5 786.6,727.5 790.1,784.1 793.4,755.8 796.7,726.5 798.3,715.0 799.8,715.0 802.2,715.0 804.5,715.0 809.6,715.0 812.3,715.0 815.9,715.0 819.8,715.0 822.7,715.0 823.7,715.0 826.6,715.0 830.5,715.0 833.4,715.0 835.4,715.0 838.3,715.0 840.3,715.0 843.2,715.0 846.7,715.0 851.0,715.0 853.9,715.0 856.9,715.0 860.4,715.0 863.7,715.0 870.2,715.0 874.5,715.0 876.8,715.0 879.3,715.0 881.3,715.0 884.2,715.0 890.1,715.0 893.0,715.0 896.9,715.0 903.2,715.0 906.7,715.0 913.5,715.0 919.0,715.0 923.3,715.0 928.2,715.0 931.1,715.0 932.7,715.0 937.6,715.0 939.5,715.0 941.5,715.0 943.8,715.0 946.4,715.0 949.3,715.0 952.2,715.0 955.2,715.0 957.5,715.0 958.7,715.0 959.1,715.0 960.0,715.0 964.9,715.0 969.8,715.0 972.7,715.0 976.6,715.0 980.0,715.0 983.5,715.0 987.4,715.0 989.9,715.0 993.2,715.0 996.2,715.0 999.1,715.0 1003.0,715.0 1006.9,715.0 1009.8,715.0 1013.4,715.0 1016.7,715.0 1019.6,715.0 1022.5,715.0 1024.5,715.0 1026.4,715.0 1029.4,715.0 1032.3,715.0 1035.2,715.0 1037.2,715.0 1043.0,715.0 1046.0,715.0 1049.9,715.0 1052.8,715.0 1054.8,715.0 1056.1,715.0 1058.3,715.0 1059.6,715.0 1061.6,715.0 1064.9,715.0 1068.4,715.0 1071.4,715.0 1073.7,715.0 1076.2,715.0 1079.2,715.0 1082.1,715.0 1085.0,715.0 1088.9,715.0 1093.4,715.0 1096.8,715.0 1098.7,715.0 1100.7,715.0 1102.6,715.0 1104.6,715.0 1106.5,715.0 1110.4,715.0 1112.4,715.0 1114.3,715.0 1116.3,715.0 1118.2,715.0 1120.2,715.0 1123.1,715.0 1126.1,715.0 1128.0,715.0 1130.9,715.0 1134.8,715.0 1136.8,715.0 1139.7,715.0 1146.6,715.0 1148.5,715.0 1150.5,715.0 1154.4,715.0 1157.3,715.0 1159.3,715.0 1163.2,715.0 1165.7,715.0 1168.0,715.0 1170.0,715.0 1172.9,715.0 1175.9,715.0 1178.8,715.0 1183.7,715.0 1186.6,715.0 1188.6,715.0 1190.5,715.0 1193.4,715.0 1197.3,715.0 1200.3,715.0 1203.2,715.0 1204.2,715.0 1209.1,715.0 1212.0,715.0 1214.9,715.0 1216.9,715.0 1219.8,715.0 1222.7,715.0 1225.7,715.0 1229.6,715.0 1233.5,715.0 1236.4,715.0 1239.9,715.0 1244.2,715.0 1246.6,715.0 1250.1,715.0 1253.0,715.0 1255.9,715.0 1259.5,715.0 1262.8,715.0 1266.7,715.0 1269.6,715.0 1273.5,715.0 1279.0,715.0 1281.3,715.0 1286.2,715.0 1290.1,715.0 1296.0,715.0 1299.9,715.0 1303.8,715.0 1306.3,715.0 1308.7,715.0 1312.6,715.0 1317.5,715.0 1319.8,715.0 1322.1,715.0 1324.6,715.0 1326.6,715.0 1328.0,715.0 1329.1,715.0 1330.5,746.0 1333.4,805.1 1336.4,848.8 1339.7,911.3 1342.2,858.6 1345.2,800.0 1347.1,755.8 1349.6,715.0 1352.0,755.8 1353.4,850.8 1357.9,746.0 1359.8,717.7 1362.7,746.0 1364.7,800.0 1367.6,835.2 1369.6,878.1 1372.5,935.7 1376.4,934.8 1379.3,897.7 1382.7,906.4 1386.2,880.1 1389.7,860.5 1393.0,875.2 1395.9,876.2 1399.8,898.6 1403.4,864.5 1406.3,838.1 1409.6,864.5 1412.5,862.5 1416.4,850.8 1418.4,819.5 1419.4,790.0 1427.2,790.9 1429.5,792.9 1432.1,829.3 1436.0,885.0 1439.9,891.8 1443.2,902.5 1446.7,864.5 1449.5,842.0 1453.2,894.7 1456.5,882.0 1459.4,882.0 1462.9,911.3 1464.3,946.5 1466.2,1008.0 1469.8,987.5 1473.1,999.2 1476.0,936.7 1478.4,917.2 1481.5,864.5 1484.8,857.6 1489.7,847.9 1493.2,842.0 1496.1,866.4 1499.5,853.7 1503.0,852.3 1506.3,840.0 1509.6,848.8 1512.1,823.4 1515.1,775.3 1517.4,715.0 1518.6,715.0 1519.4,715.0 1522.5,715.0 1525.8,715.0 1528.8,715.0 1532.3,715.0 1536.6,715.0 1539.5,715.0 1542.8,715.0 1545.4,715.0 1546.7,715.0 1549.8,715.0 1553.2,715.0 1556.1,715.0 1559.6,715.0 1563.5,715.0 1564.9,715.0 1567.8,715.0 1570.7,715.0 1573.7,715.0 1576.6,715.0 1579.1,715.0 1582.5,715.0 1586.4,715.0 1588.9,715.0 1592.2,715.0 1595.2,715.0 1599.1,715.0 1603.0,715.0 1605.9,715.0 1607.9,715.0 1611.2,715.0 1613.8,715.0 1616.1,715.0 1619.1,715.0 1622.2,715.0 1626.1,715.0 1629.4,715.0 1633.3,715.0 1636.2,715.0 1639.2,715.0 1642.1,715.0 1646.0,715.0 1649.5,715.0 1652.9,715.0 1656.2,715.0 1659.7,715.0 1663.6,715.0 1667.1,715.0 1670.4,715.0 1673.4,715.0 1676.3,715.0 1679.2,715.0 1683.1,715.0 1686.1,715.0 1689.4,715.0 1692.9,715.0 1696.4,715.0 1699.7,715.0 1702.7,715.0 1705.6,715.0 1712.4,715.0 1716.3,715.0 1719.8,715.0 1722.8,715.0 1725.7,715.0 1728.0,715.0 1732.0,715.0 1735.5,715.0 1739.8,715.0 1745.6,715.0 1749.1,715.0 1752.5,715.0 1755.8,715.0 1759.3,715.0 1762.2,715.0 1766.1,715.0 1770.0,715.0 1773.0,715.0 1775.9,715.0 1777.9,715.0 1779.8,715.0 1781.8,715.0 1785.7,715.0 1786.6,715.0 1788.6,715.0 1790.5,715.0 1792.5,715.0 1794.1,715.0 1796.0,715.0 1799.3,715.0 1805.2,715.0 1810.1,715.0 1815.0,715.0 1819.5,715.0 1822.2,715.0 1825.7,715.0 1829.6,715.0 1833.1,715.0 1836.4,715.0 1839.0,715.0 1842.9,715.0 1846.2,715.0 1849.5,715.0 1852.1,715.0 1854.0,715.0 1856.4,715.0 1856.4,715.0" fill="#e8b924" fill-opacity="0.55"/>
<polyline points="193.4,275.0 196.4,418.0 201.2,424.8 204.8,402.3 207.1,287.1 211.4,274.4 213.9,365.2 217.5,345.3 221.2,358.4 224.3,358.4 227.6,345.3 229.6,361.3 233.5,489.3 237.4,499.1 242.3,460.0 248.1,429.7 254.0,326.2 260.8,412.1 264.3,368.2 267.1,398.4 269.6,469.8 271.6,518.6 273.5,579.1 277.0,553.8 279.1,592.2" fill="none" stroke="#2e57c6" stroke-width="2.7" stroke-linejoin="round"/>
<polyline points="293.5,592.2 298.9,538.1 303.8,506.9 306.7,528.4 310.6,583.0 313.6,587.0 314.2,592.2" fill="none" stroke="#2e57c6" stroke-width="2.7" stroke-linejoin="round"/>
<polyline points="378.5,592.2 379.4,577.2 381.9,524.5 387.8,489.3 390.7,492.2 394.6,460.0 397.5,362.3 407.3,455.1 410.6,419.9 414.1,419.9 417.7,412.1 421.0,443.4 423.9,455.1 427.4,445.3 433.7,463.9 440.5,421.9 444.4,394.5 448.3,347.7 450.7,349.6 454.2,365.2 457.1,405.3 462.0,400.4 463.9,394.5 467.3,463.9 470.2,447.3 474.7,483.4 478.6,506.9 481.5,515.7 484.5,505.9 487.4,516.6 490.3,545.9 493.2,550.8 496.2,545.0 500.1,582.1 505.0,579.1 506.9,585.0 508.4,592.2" fill="none" stroke="#2e57c6" stroke-width="2.7" stroke-linejoin="round"/>
<polyline points="581.5,592.2 581.5,591.7 582.5,559.9 584.4,546.2 590.3,579.5 595.2,538.4 597.1,491.6 603.9,468.1 607.9,503.3 611.2,518.9 613.7,568.7 616.6,493.5 619.6,444.7 622.9,457.4 627.0,432.0 630.3,507.2 632.7,520.9 635.2,556.0 638.1,592.2" fill="none" stroke="#2e57c6" stroke-width="2.7" stroke-linejoin="round"/>
<polyline points="714.8,592.2 715.7,587.8 718.2,591.7 718.3,592.2" fill="none" stroke="#2e57c6" stroke-width="2.7" stroke-linejoin="round"/>
<polyline points="822.6,592.2 822.7,591.9 823.7,575.5 826.6,536.5 830.5,528.7 833.4,530.6 835.4,556.0 838.2,592.2" fill="none" stroke="#2e57c6" stroke-width="2.7" stroke-linejoin="round"/>
<polyline points="881.3,592.2 881.3,591.9 884.2,546.2 890.1,472.0 893.0,479.8 896.9,448.6 903.2,437.9 906.7,448.6 913.5,501.3 919.0,464.2 923.3,487.7 928.2,454.5 931.1,413.4 932.7,330.4 937.6,321.6 939.5,351.9 941.5,399.5 943.8,431.8 946.4,438.6 949.3,469.8 952.2,472.2 955.2,465.9 957.5,448.4 958.7,380.0 959.1,336.2 960.0,283.5 964.9,312.8 969.8,338.2 972.7,262.0 976.6,219.1 980.0,200.5 983.5,316.7 987.4,330.4 989.9,360.7 993.2,310.5 996.2,364.6 999.1,349.9 1003.0,320.6 1006.9,300.1 1009.8,249.3 1013.4,307.0 1016.7,351.9 1019.6,375.3 1022.5,409.3 1024.5,458.1 1026.4,486.4 1029.4,473.8 1032.3,438.6 1035.2,403.4 1037.2,394.6 1043.0,394.6 1046.0,409.3 1049.9,425.9 1052.8,409.3 1054.8,355.8 1056.1,288.4 1058.3,355.8 1059.6,399.5 1061.6,387.8 1064.9,378.2 1068.4,403.4 1071.4,438.6 1073.7,447.4 1076.2,419.1 1079.2,355.8 1082.1,363.6 1085.0,342.1 1088.9,324.5 1093.4,280.6 1096.8,312.8 1098.7,348.0 1100.7,399.5 1102.6,458.1 1104.6,546.0 1106.5,581.2 1110.4,554.8 1112.4,575.2 1114.3,592.0 1114.4,592.2" fill="none" stroke="#2e57c6" stroke-width="2.7" stroke-linejoin="round"/>
<polyline points="1120.2,592.2 1120.2,592.0 1123.1,537.2 1126.1,571.4 1128.0,592.0 1128.1,592.2" fill="none" stroke="#2e57c6" stroke-width="2.7" stroke-linejoin="round"/>
<polyline points="1150.5,592.2 1150.5,592.0 1154.4,565.5 1157.3,547.0 1159.3,546.0 1163.2,497.2 1165.7,503.0 1168.0,555.8 1170.0,592.0 1170.0,592.2" fill="none" stroke="#2e57c6" stroke-width="2.7" stroke-linejoin="round"/>
<polyline points="1190.5,592.2 1190.5,592.0 1193.4,555.8 1197.3,497.2 1200.3,438.6 1203.2,409.3 1204.2,393.9 1209.1,394.8 1212.0,410.3 1214.9,395.6 1216.9,388.8 1219.8,425.9 1222.7,386.8 1225.7,392.7 1229.6,390.7 1233.5,490.4 1236.4,444.5 1239.9,441.5 1244.2,384.9 1246.6,396.6 1250.1,458.1 1253.0,516.7 1255.9,570.4 1259.5,516.7 1262.8,551.9 1266.7,559.7 1269.6,565.5 1273.5,586.1 1279.0,563.6 1281.3,564.6 1286.2,586.1 1290.1,583.1 1296.0,553.8 1299.9,565.5 1303.8,592.0 1303.8,592.2" fill="none" stroke="#2e57c6" stroke-width="2.7" stroke-linejoin="round"/>
<polyline points="1308.6,592.2 1308.7,592.0 1312.6,565.5 1317.5,549.9 1319.8,575.8 1322.1,592.0 1322.2,592.2" fill="none" stroke="#2e57c6" stroke-width="2.7" stroke-linejoin="round"/>
<polyline points="1546.7,592.2 1546.7,591.9 1549.8,569.9 1553.2,591.9 1553.2,592.2" fill="none" stroke="#2e57c6" stroke-width="2.7" stroke-linejoin="round"/>
<polyline points="1564.9,592.2 1564.9,591.9 1567.8,517.2 1570.7,458.6 1573.7,429.3 1576.6,419.5 1579.1,407.8 1582.5,417.6 1586.4,425.4 1588.9,419.5 1592.2,434.2 1595.2,414.6 1599.1,425.4 1603.0,405.9 1605.9,404.9 1607.9,378.4 1611.2,327.7 1613.8,288.6 1616.1,265.2 1619.1,347.2 1622.2,396.0 1626.1,418.6 1629.4,376.5 1633.3,378.4 1636.2,399.9 1639.2,421.5 1642.1,458.6 1646.0,495.7 1649.5,485.9 1652.9,480.1 1656.2,462.5 1659.7,472.3 1663.6,497.7 1667.1,508.4 1670.4,482.0 1673.4,458.6 1676.3,429.3 1679.2,380.4 1683.1,381.4 1686.1,439.1 1689.4,483.0 1692.9,476.2 1696.4,470.3 1699.7,432.2 1702.7,454.7 1705.6,482.0 1712.4,486.9 1716.3,521.1 1719.8,558.2 1722.8,542.6 1725.7,478.1 1728.0,439.1 1732.0,421.5 1735.5,431.2 1739.8,423.4 1745.6,415.6 1749.1,443.0 1752.5,411.7 1755.8,381.4 1759.3,398.0 1762.2,408.8 1766.1,402.9 1770.0,399.9 1773.0,402.9 1775.9,386.2 1777.9,347.2 1779.8,288.6 1781.8,226.4 1785.7,288.6 1786.6,345.2 1788.6,339.4 1790.5,327.7 1792.5,292.5 1794.1,347.2 1796.0,414.6 1799.3,392.1 1805.2,386.2 1810.1,401.9 1815.0,401.9 1819.5,393.1 1822.2,394.1 1825.7,390.2 1829.6,435.2 1833.1,405.8 1836.4,392.1 1839.0,389.2 1842.9,399.9 1846.2,406.8 1849.5,402.9 1852.1,435.2 1854.0,468.4 1856.4,486.9" fill="none" stroke="#2e57c6" stroke-width="2.7" stroke-linejoin="round"/>
<polyline points="279.1,592.2 279.4,596.7 281.3,626.0 284.3,639.7 287.8,645.5 291.1,614.3 293.4,592.8 293.5,592.2" fill="none" stroke="#df4a2e" stroke-width="2.7" stroke-linejoin="round"/>
<polyline points="314.2,592.2 314.5,594.8 317.5,620.2 321.0,602.6 324.3,635.8 327.4,689.5 328.0,715.0" fill="none" stroke="#df4a2e" stroke-width="2.7" stroke-linejoin="round"/>
<polyline points="337.0,715.0 338.4,679.8 340.3,612.3 343.8,600.6 346.8,592.8 349.7,604.5 353.6,651.4 357.1,667.0 360.4,657.3 363.9,696.4 367.3,687.6 371.2,649.5 373.7,661.2 377.0,616.2 378.5,592.2" fill="none" stroke="#df4a2e" stroke-width="2.7" stroke-linejoin="round"/>
<polyline points="508.4,592.2 508.9,594.8 510.8,674.8 514.7,681.7 517.7,676.8 520.6,681.7 523.9,687.6 527.4,696.4 530.4,681.7 533.9,622.1 537.2,641.6 540.1,714.9 540.1,715.0" fill="none" stroke="#df4a2e" stroke-width="2.7" stroke-linejoin="round"/>
<polyline points="577.6,715.0 579.5,638.6 581.5,592.2" fill="none" stroke="#df4a2e" stroke-width="2.7" stroke-linejoin="round"/>
<polyline points="638.1,592.2 638.1,593.1 641.1,628.8 644.0,681.6 645.9,714.8 645.9,715.0" fill="none" stroke="#df4a2e" stroke-width="2.7" stroke-linejoin="round"/>
<polyline points="664.1,715.0 664.1,714.8 665.1,703.0 667.4,703.0 669.4,714.8 669.4,715.0" fill="none" stroke="#df4a2e" stroke-width="2.7" stroke-linejoin="round"/>
<polyline points="706.4,715.0 706.5,714.8 710.4,658.1 713.3,599.5 714.8,592.2" fill="none" stroke="#df4a2e" stroke-width="2.7" stroke-linejoin="round"/>
<polyline points="718.3,592.2 721.1,609.3 724.1,677.7 726.0,714.8 726.0,715.0" fill="none" stroke="#df4a2e" stroke-width="2.7" stroke-linejoin="round"/>
<polyline points="798.2,715.0 798.3,714.8 799.8,658.1 802.2,621.0 804.5,616.1 809.6,626.9 812.3,609.3 815.9,608.3 819.8,600.5 822.6,592.2" fill="none" stroke="#df4a2e" stroke-width="2.7" stroke-linejoin="round"/>
<polyline points="838.2,592.2 838.3,593.1 840.3,628.8 843.2,681.6 846.7,700.1 851.0,671.8 853.9,658.1 856.9,652.3 860.4,614.2 863.7,644.5 870.2,708.9 874.5,654.2 876.8,626.9 879.3,634.7 881.3,592.2" fill="none" stroke="#df4a2e" stroke-width="2.7" stroke-linejoin="round"/>
<polyline points="1114.4,592.2 1116.3,620.1 1118.2,606.4 1120.2,592.2" fill="none" stroke="#df4a2e" stroke-width="2.7" stroke-linejoin="round"/>
<polyline points="1128.1,592.2 1130.9,608.4 1134.8,624.0 1136.8,625.9 1139.7,655.2 1146.6,643.5 1148.5,618.1 1150.5,592.2" fill="none" stroke="#df4a2e" stroke-width="2.7" stroke-linejoin="round"/>
<polyline points="1170.0,592.2 1172.9,650.4 1175.9,635.7 1178.8,631.8 1183.7,625.9 1186.6,660.1 1188.6,627.9 1190.5,592.2" fill="none" stroke="#df4a2e" stroke-width="2.7" stroke-linejoin="round"/>
<polyline points="1303.8,592.2 1306.3,603.5 1308.6,592.2" fill="none" stroke="#df4a2e" stroke-width="2.7" stroke-linejoin="round"/>
<polyline points="1322.2,592.2 1324.6,601.5 1326.6,611.2 1328.0,658.1 1329.1,715.0 1329.1,715.0" fill="none" stroke="#df4a2e" stroke-width="2.7" stroke-linejoin="round"/>
<polyline points="1349.4,715.0 1349.6,709.9 1349.9,715.0" fill="none" stroke="#df4a2e" stroke-width="2.7" stroke-linejoin="round"/>
<polyline points="1517.4,715.0 1517.4,715.0 1518.6,677.7 1519.4,650.3 1522.5,660.1 1525.8,631.8 1528.8,625.9 1532.3,634.7 1536.6,627.9 1539.5,619.1 1542.8,625.9 1545.4,599.5 1546.7,592.2" fill="none" stroke="#df4a2e" stroke-width="2.7" stroke-linejoin="round"/>
<polyline points="1553.2,592.2 1556.1,609.3 1559.6,627.9 1563.5,625.9 1564.9,592.2" fill="none" stroke="#df4a2e" stroke-width="2.7" stroke-linejoin="round"/>
<polyline points="328.0,715.0 329.8,788.2 334.1,784.3 337.0,715.9 337.0,715.0" fill="none" stroke="#dfae30" stroke-width="2.7" stroke-linejoin="round"/>
<polyline points="540.1,715.0 543.0,787.2 547.0,877.0 549.9,838.0 552.8,818.4 557.7,855.5 560.6,806.7 563.6,793.0 569.8,814.9 577.6,716.7 577.6,715.0" fill="none" stroke="#dfae30" stroke-width="2.7" stroke-linejoin="round"/>
<polyline points="645.9,715.0 646.5,789.5 647.9,867.7 650.2,953.6 651.8,895.0 655.7,855.9 658.6,818.8 660.6,799.3 662.5,746.0 664.1,715.0" fill="none" stroke="#dfae30" stroke-width="2.7" stroke-linejoin="round"/>
<polyline points="669.4,715.0 671.3,732.3 673.9,760.7 677.2,736.2 679.7,723.6 682.7,761.6 684.0,784.1 687.9,780.2 690.9,755.8 694.4,739.2 697.3,772.4 700.2,725.5 703.2,732.3 706.4,715.0" fill="none" stroke="#dfae30" stroke-width="2.7" stroke-linejoin="round"/>
<polyline points="726.0,715.0 727.0,751.9 729.5,738.2 732.9,758.7 735.8,758.7 738.7,783.1 741.6,790.0 746.1,775.3 748.5,809.1 753.4,867.7 756.3,895.0 759.2,928.2 764.1,921.4 767.0,879.4 770.0,825.7 772.5,834.5 775.8,809.1 780.7,755.8 783.6,726.5 786.6,727.5 790.1,784.1 793.4,755.8 796.7,726.5 798.2,715.0" fill="none" stroke="#dfae30" stroke-width="2.7" stroke-linejoin="round"/>
<polyline points="1329.1,715.0 1330.5,746.0 1333.4,805.1 1336.4,848.8 1339.7,911.3 1342.2,858.6 1345.2,800.0 1347.1,755.8 1349.4,715.0" fill="none" stroke="#dfae30" stroke-width="2.7" stroke-linejoin="round"/>
<polyline points="1349.9,715.0 1352.0,755.8 1353.4,850.8 1357.9,746.0 1359.8,717.7 1362.7,746.0 1364.7,800.0 1367.6,835.2 1369.6,878.1 1372.5,935.7 1376.4,934.8 1379.3,897.7 1382.7,906.4 1386.2,880.1 1389.7,860.5 1393.0,875.2 1395.9,876.2 1399.8,898.6 1403.4,864.5 1406.3,838.1 1409.6,864.5 1412.5,862.5 1416.4,850.8 1418.4,819.5 1419.4,790.0 1427.2,790.9 1429.5,792.9 1432.1,829.3 1436.0,885.0 1439.9,891.8 1443.2,902.5 1446.7,864.5 1449.5,842.0 1453.2,894.7 1456.5,882.0 1459.4,882.0 1462.9,911.3 1464.3,946.5 1466.2,1008.0 1469.8,987.5 1473.1,999.2 1476.0,936.7 1478.4,917.2 1481.5,864.5 1484.8,857.6 1489.7,847.9 1493.2,842.0 1496.1,866.4 1499.5,853.7 1503.0,852.3 1506.3,840.0 1509.6,848.8 1512.1,823.4 1515.1,775.3 1517.4,715.0" fill="none" stroke="#dfae30" stroke-width="2.7" stroke-linejoin="round"/>
<rect x="189" y="341" width="2" height="2" fill="#c8c8cc"/>
<rect x="174" y="592.2" width="1698" height="122.79999999999995" fill="#8f6b14" fill-opacity="0.194"/>
<rect x="174" y="715" width="1698" height="121.5" fill="#803d24" fill-opacity="0.194"/>
<line x1="174" x2="1872" y1="347.9" y2="347.9" stroke="#ececf4" stroke-width="1.9" stroke-dasharray="6.8 4.9"/>
<text x="188" y="587.7" font-size="20" fill="#958f92">10%</text>
<text x="188" y="710.5" font-size="20" fill="#958f92">15%</text>
<text x="188" y="832.0" font-size="20" fill="#958f92">20%</text>
<rect x="162.7" y="160" width="2.9" height="890" fill="#ffffff"/>
<rect x="1881.5" y="160" width="2.6" height="890" fill="#8b8b98"/>
<rect x="174" y="1049" width="1698" height="1.8" fill="#4b4b56"/>
<rect x="329.2" y="1050" width="1.6" height="11" fill="#4b4b56"/>
<rect x="533.2" y="1050" width="1.6" height="11" fill="#4b4b56"/>
<rect x="739.2" y="1050" width="1.6" height="11" fill="#4b4b56"/>
<rect x="942.2" y="1050" width="1.6" height="11" fill="#4b4b56"/>
<rect x="1146.2" y="1050" width="1.6" height="11" fill="#4b4b56"/>
<rect x="1341.2" y="1050" width="1.6" height="11" fill="#4b4b56"/>
<rect x="1545.2" y="1050" width="1.6" height="11" fill="#4b4b56"/>
<rect x="1748.2" y="1050" width="1.6" height="11" fill="#4b4b56"/>
<text x="330" y="1088" font-size="20.5" fill="#a0a0ac" text-anchor="middle">2024 May</text>
<text x="534" y="1088" font-size="20.5" fill="#a0a0ac" text-anchor="middle">2024 Jul</text>
<text x="740" y="1088" font-size="20.5" fill="#a0a0ac" text-anchor="middle">2024 Sep</text>
<text x="943" y="1088" font-size="20.5" fill="#a0a0ac" text-anchor="middle">2024 Nov</text>
<text x="1147" y="1088" font-size="20.5" fill="#a0a0ac" text-anchor="middle">2025 Jan</text>
<text x="1342" y="1088" font-size="20.5" fill="#a0a0ac" text-anchor="middle">2025 Mar</text>
<text x="1546" y="1088" font-size="20.5" fill="#a0a0ac" text-anchor="middle">2025 May</text>
<text x="1749" y="1088" font-size="20.5" fill="#a0a0ac" text-anchor="middle">2025 Jul</text>
<text x="145" y="211" font-size="25.3" fill="#ffffff" text-anchor="end" textLength="56" lengthAdjust="spacingAndGlyphs">120K</text>
<text x="145" y="422" font-size="25.3" fill="#ffffff" text-anchor="end" textLength="57" lengthAdjust="spacingAndGlyphs">100K</text>
<text x="145" y="634" font-size="25.3" fill="#ffffff" text-anchor="end" textLength="45.5" lengthAdjust="spacingAndGlyphs">80K</text>
<text x="145" y="845" font-size="25.3" fill="#ffffff" text-anchor="end" textLength="45.8" lengthAdjust="spacingAndGlyphs">60K</text>
<text x="145" y="1057" font-size="25.3" fill="#ffffff" text-anchor="end" textLength="45.8" lengthAdjust="spacingAndGlyphs">40K</text>
<text x="1903" y="356.3" font-size="26" fill="#ffffff" textLength="35.4" lengthAdjust="spacingAndGlyphs">0%</text>
<text x="1903" y="551.3" font-size="26" fill="#ffffff" textLength="46.9" lengthAdjust="spacingAndGlyphs">-8%</text>
<text x="1903" y="747.3" font-size="26" fill="#ffffff" textLength="58.2" lengthAdjust="spacingAndGlyphs">-16%</text>
<text x="1903" y="942.3" font-size="26" fill="#ffffff" textLength="62.6" lengthAdjust="spacingAndGlyphs">-24%</text>
<text transform="translate(70.5,605) rotate(-90)" font-size="25" fill="#ffffff" text-anchor="middle" textLength="147" lengthAdjust="spacingAndGlyphs">BTC Price ($)</text>
<text transform="translate(1978,604.5) rotate(90)" font-size="25" fill="#ffffff" text-anchor="middle" textLength="180" lengthAdjust="spacingAndGlyphs">Price Drawdown</text>
<text x="1022.5" y="73.3" font-size="41" font-weight="bold" word-spacing="-2" fill="#ffffff" text-anchor="middle" textLength="579" lengthAdjust="spacingAndGlyphs">BTC: Price Drawdown Analysis</text>
<rect x="520" y="116" width="30" height="3" fill="#ffffff"/>
<text x="557" y="124.5" font-size="25" fill="#ffffff" textLength="185" lengthAdjust="spacingAndGlyphs">BTC Price [USD]</text>
<circle cx="782.5" cy="112.7" r="12.8" fill="#1b3db4"/>
<text x="805" y="124.5" font-size="25" fill="#ffffff" textLength="181" lengthAdjust="spacingAndGlyphs">Price Drawdown</text>
<rect x="1010" y="116.5" width="21" height="2.6" fill="#8e8e9a"/>
<rect x="1039" y="116.5" width="2.6" height="2.6" fill="#8e8e9a"/>
<text x="1048.5" y="124.5" font-size="25" fill="#8e8e9a" textLength="309.5" lengthAdjust="spacingAndGlyphs">average 1Y Price Drawdown</text>
<rect x="1048.5" y="115.4" width="309.5" height="1.6" fill="#8e8e9a"/>
<circle cx="1397.5" cy="112.7" r="12.8" fill="#9c9ca8"/>
<text x="1420.5" y="124.5" font-size="25" fill="#8e8e9a" textLength="108.5" lengthAdjust="spacingAndGlyphs">SMA-30d</text>
<rect x="1420.5" y="115.4" width="108.5" height="1.6" fill="#8e8e9a"/>
<g transform="translate(778,1104)"><rect x="0.7" y="0.8" width="1.2" height="18.6" fill="#b0b0b8"/><path d="M1.9 1.8 L23.2 7.4 L1.9 14 Z" fill="#dc2a20"/><path d="M1.9 9 L23.2 7.4 L1.9 14 Z" fill="#b8181a" fill-opacity="0.55"/></g>
<text x="812.5" y="1120.5" font-size="20.5" fill="#9c9ca8" textLength="216.5" lengthAdjust="spacingAndGlyphs">Daily on-chain analysis:</text>
<text x="1036" y="1120.5" font-size="20.5" fill="#9c9ca8" textLength="232.5" lengthAdjust="spacingAndGlyphs">https://x.com/AxelAdlerJr</text>
<rect x="1036" y="1122.3" width="232.5" height="1" fill="#9c9ca8"/>
<text x="1741" y="1123" font-size="18" fill="#9a9aa6" textLength="256" lengthAdjust="spacingAndGlyphs">© CryptoQuant. All rights reserved</text>
</svg>
</body></html>
